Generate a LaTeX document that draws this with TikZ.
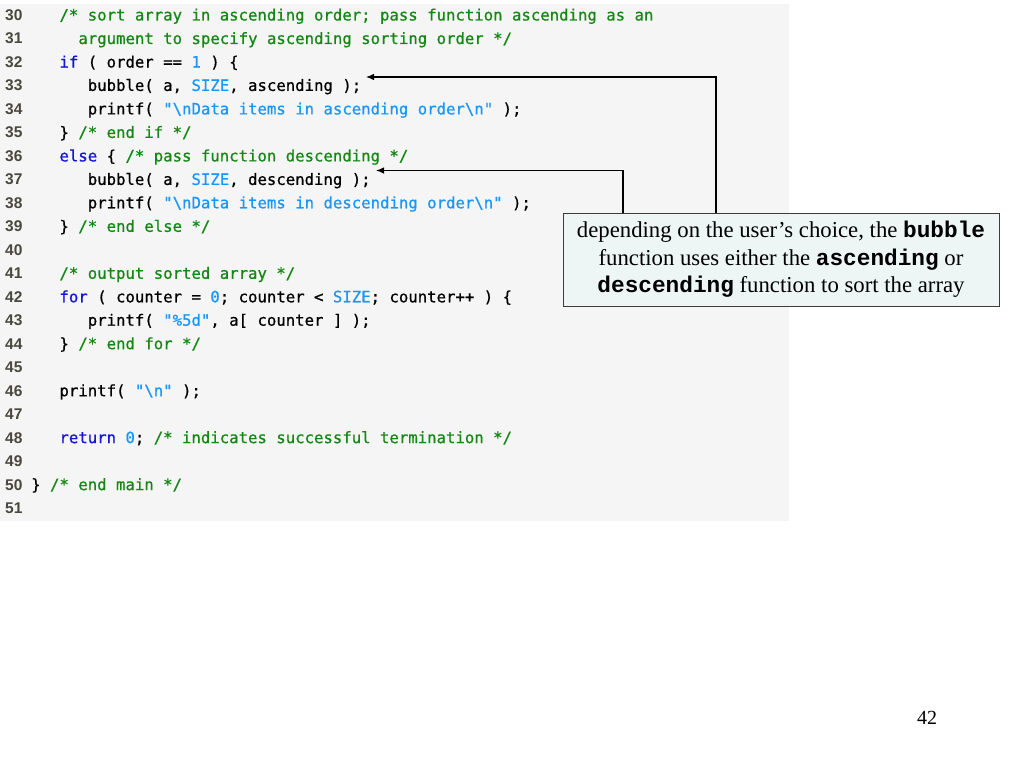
\documentclass[tikz,border=0pt]{standalone}
\usepackage{fontspec}
\setmainfont{Liberation Serif}
\newfontfamily\codefont[FakeBold=0.7]{DejaVu Sans Mono}
\newfontfamily\numfont{Liberation Sans}
\newfontfamily\notefont{Liberation Mono}
\usetikzlibrary{arrows.meta}

\definecolor{panelgray}{RGB}{245,245,245}
\definecolor{notefill}{RGB}{237,245,245}
\definecolor{noteline}{RGB}{60,60,60}
\definecolor{numgray}{RGB}{72,72,62}
\definecolor{kwblue}{RGB}{20,20,210}
\definecolor{comgreen}{RGB}{20,135,20}
\definecolor{litblue}{RGB}{25,150,250}

\newcommand{\ckw}[1]{\textcolor{kwblue}{#1}}
\newcommand{\ccom}[1]{\textcolor{comgreen}{#1}}
\newcommand{\clit}[1]{\textcolor{litblue}{#1}}
\newcommand{\ncode}[1]{{\notefont\bfseries #1}}
\newcommand{\bs}{\textbackslash}

\tikzset{
	codeline/.style={anchor=base west,inner sep=0pt,font=\codefont\fontsize{15.66}{18}\selectfont},
	linenum/.style={anchor=base west,inner sep=0pt,text=numgray,font=\numfont\bfseries\fontsize{15.5}{18}\selectfont},
	notebox/.style={fill=notefill,draw=noteline,line width=1pt,inner sep=0pt,minimum width=436,minimum height=93,align=center,font=\fontsize{22.75}{27.3}\selectfont},
	callarrow/.style={line width=1.1pt,-{Latex[length=8pt,width=6.5pt]}}
}

\begin{document}
\begin{tikzpicture}[x=1pt,y=-1pt]
	   \useasboundingbox (0,0) rectangle (1024,768);
	   \fill [fill=panelgray] (0,4) rectangle (789,521);
	   % line numbers
	   \foreach \n in {30,...,51}
	      \node [linenum] (num\n) at (5,{20.5+(\n-30)*23.48}) {\n};
	   % code lines
	   \node [codeline] (l30) at (59.3,20.5) {\ccom{/* sort array in ascending order; pass function ascending as an}};
	   \node [codeline] (l31) at (78.2,44) {\ccom{argument to specify ascending sorting order */}};
	   \node [codeline] (l32) at (59.3,67.5) {\ckw{if} ( order == \clit{1} ) \{};
	   \node [codeline] (l33) at (87.6,90.9) {bubble( a, \clit{SIZE}, ascending );};
	   \node [codeline] (l34) at (87.6,114.4) {printf( \clit{"\bs nData items in ascending order\bs n"} );};
	   \node [codeline] (l35) at (59.3,137.9) {\} \ccom{/* end if */}};
	   \node [codeline] (l36) at (59.3,161.4) {\ckw{else} \{ \ccom{/* pass function descending */}};
	   \node [codeline] (l37) at (87.6,184.9) {bubble( a, \clit{SIZE}, descending );};
	   \node [codeline] (l38) at (87.6,208.3) {printf( \clit{"\bs nData items in descending order\bs n"} );};
	   \node [codeline] (l39) at (59.3,231.8) {\} \ccom{/* end else */}};
	   \node [codeline] (l41) at (59.3,278.8) {\ccom{/* output sorted array */}};
	   \node [codeline] (l42) at (59.3,302.3) {\ckw{for} ( counter = \clit{0}; counter < \clit{SIZE}; counter++ ) \{};
	   \node [codeline] (l43) at (87.6,325.7) {printf( \clit{"\%5d"}, a[ counter ] );};
	   \node [codeline] (l44) at (59.3,349.2) {\} \ccom{/* end for */}};
	   \node [codeline] (l46) at (59.3,396.2) {printf( \clit{"\bs n"} );};
	   \node [codeline] (l48) at (59.3,443.1) {\ckw{return} \clit{0}; \ccom{/* indicates successful termination */}};
	   \node [codeline] (l50) at (31,490.1) {\} \ccom{/* end main */}};
	   % callout
	   \node [notebox] (note) at (781,259.5) {depending on the user’s choice, the \ncode{bubble}\\function uses either the \ncode{ascending} or\\\ncode{descending} function to sort the array};
	   \coordinate (ascTip) at (366,77);
	   \coordinate (ascBend) at (716,77);
	   \coordinate (descTip) at (376,170.5);
	   \coordinate (descBend) at (623,170.5);
	   \draw [callarrow] (note.north -| ascBend) -- (ascBend) -- (ascTip);
	   \draw [callarrow] (note.north -| descBend) -- (descBend) -- (descTip);
	   \node [font=\fontsize{20}{24}\selectfont] (pagenum) at (927,718) {42};
\end{tikzpicture}
\end{document}
